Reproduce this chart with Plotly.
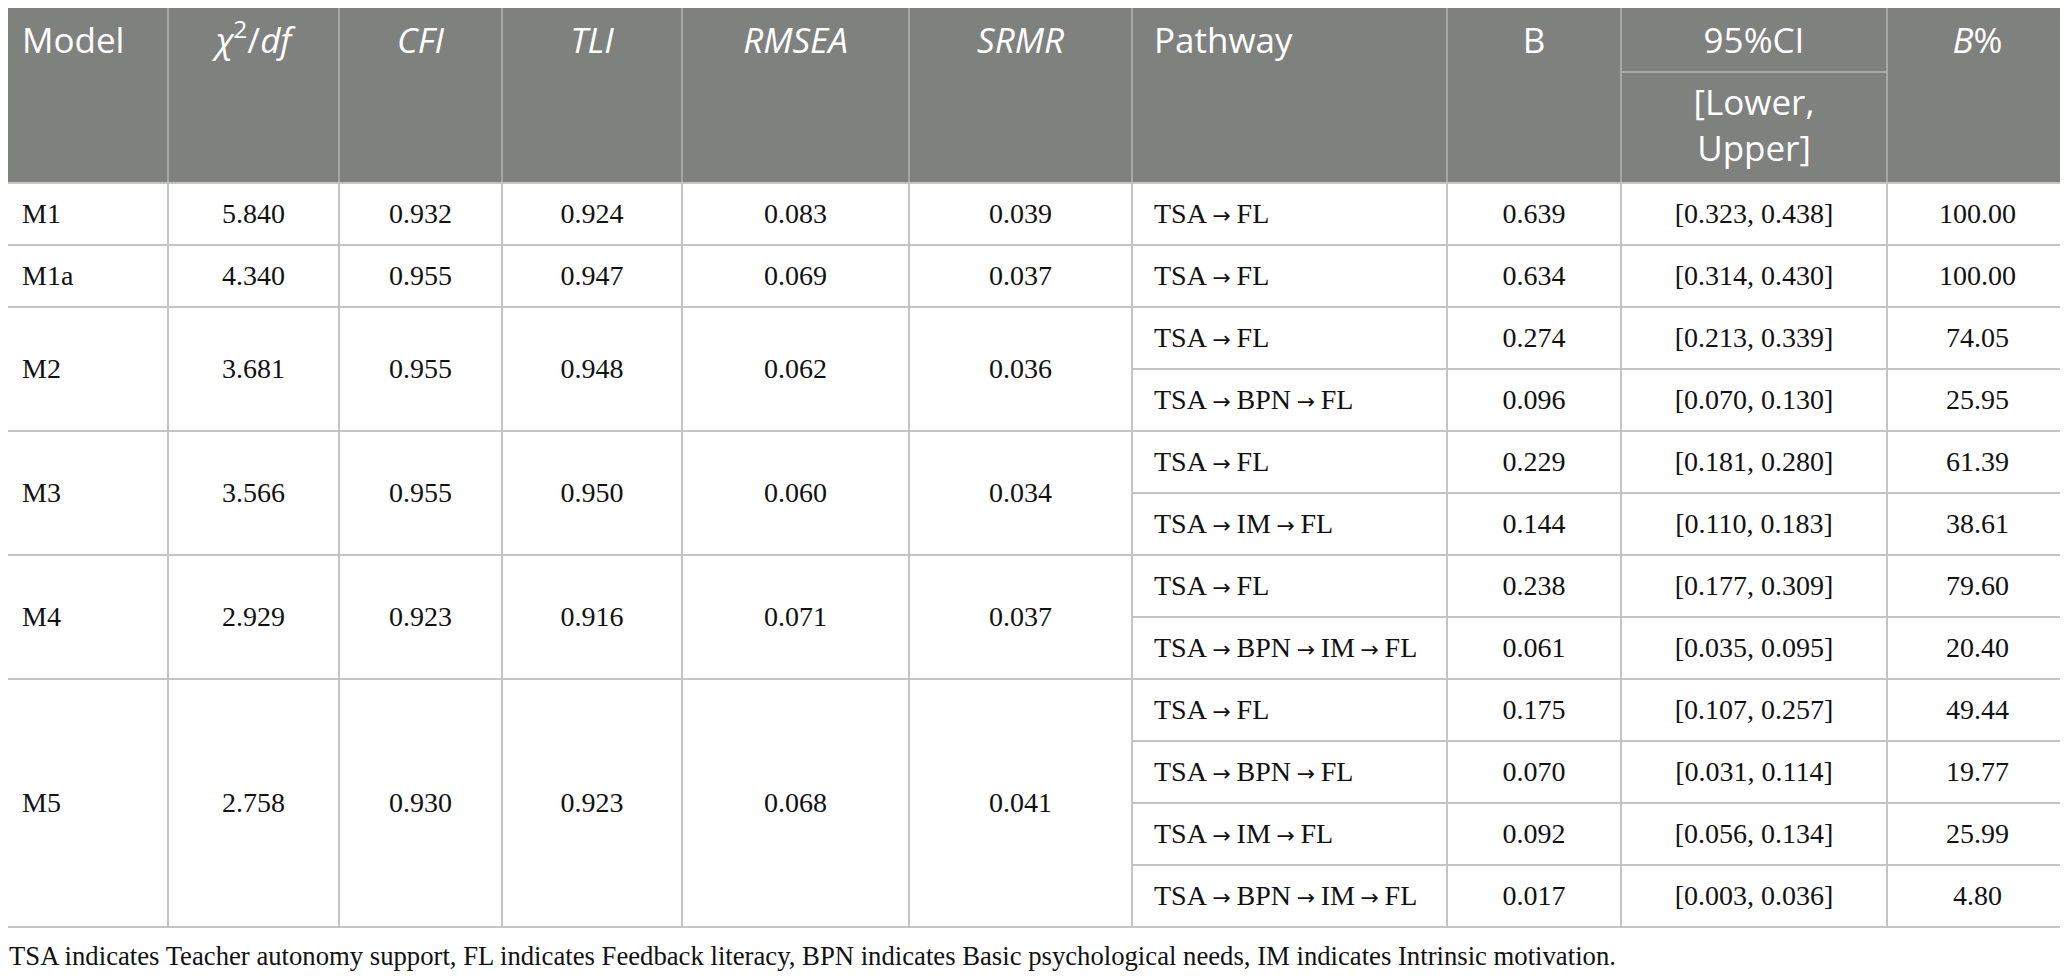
import plotly.graph_objects as go

# ---- table data ----
models = ["M1", "M1a", "M2", "M3", "M4", "M5"]
chi2_df = [5.840, 4.340, 3.681, 3.566, 2.929, 2.758]
cfi = [0.932, 0.955, 0.955, 0.955, 0.923, 0.930]
tli = [0.924, 0.947, 0.948, 0.950, 0.916, 0.923]
rmsea = [0.083, 0.069, 0.062, 0.060, 0.071, 0.068]
srmr = [0.039, 0.037, 0.036, 0.034, 0.037, 0.041]

pathways = [
    ["TSA → FL"],
    ["TSA → FL"],
    ["TSA → FL", "TSA → BPN → FL"],
    ["TSA → FL", "TSA → IM → FL"],
    ["TSA → FL", "TSA → BPN → IM → FL"],
    ["TSA → FL", "TSA → BPN → FL", "TSA → IM → FL", "TSA → BPN → IM → FL"],
]
b_est = [[0.639], [0.634], [0.274, 0.096], [0.229, 0.144], [0.238, 0.061],
         [0.175, 0.070, 0.092, 0.017]]
ci_lower = [[0.323], [0.314], [0.213, 0.070], [0.181, 0.110], [0.177, 0.035],
            [0.107, 0.031, 0.056, 0.003]]
ci_upper = [[0.438], [0.430], [0.339, 0.130], [0.280, 0.183], [0.309, 0.095],
            [0.257, 0.114, 0.134, 0.036]]
b_pct = [[100.00], [100.00], [74.05, 25.95], [61.39, 38.61], [79.60, 20.40],
         [49.44, 19.77, 25.99, 4.80]]

headers = ["Model", "<i>χ</i><sup>2</sup>/<i>df</i>", "<i>CFI</i>", "<i>TLI</i>",
           "<i>RMSEA</i>", "<i>SRMR</i>", "Pathway", "B", "95%CI", "<i>B</i>%"]
ci_subheader = "[Lower,<br>Upper]"
footnote = ("TSA indicates Teacher autonomy support, FL indicates Feedback literacy, "
            "BPN indicates Basic psychological needs, IM indicates Intrinsic motivation.")

# ---- layout / style ----
W, H = 2068, 979
off = 8  # default page margin around the plot div
col_widths = [168, 171, 163, 180, 227, 223, 315, 174, 266, 181]
table_top = 4
header_bottom = 183
ci_split = 72
row_h = 62
pad = 22
header_grey = "#7f817f"
header_line = "#a6a8a6"
grid = "#c4c4c4"
serif = "Liberation Serif"
sans = "Open Sans"
arrow = '\u2009<span style="font-family:DejaVu Sans;font-size:22px">→</span>\u2009'

edges = [0]
for w in col_widths:
    edges.append(edges[-1] + w)
centers = [(a + b) / 2 for a, b in zip(edges[:-1], edges[1:])]
n_rows = sum(len(p) for p in pathways)
table_bottom = header_bottom + n_rows * row_h

shapes = []


def line(x0, y0, x1, y1, color):
    shapes.append(dict(type="line", x0=x0, y0=y0, x1=x1, y1=y1,
                       line=dict(color=color, width=2), layer="above"))


shapes.append(dict(type="rect", x0=0, x1=W, y0=table_top, y1=header_bottom,
                   fillcolor=header_grey, line=dict(width=0), layer="below"))
line(0, table_top, W, table_top, grid)
for x in edges[1:-1]:
    line(x, table_top, x, header_bottom, header_line)
    line(x, header_bottom, x, table_bottom, grid)
line(edges[8], ci_split, edges[9], ci_split, header_line)
line(0, header_bottom, W, header_bottom, grid)

# body cell texts
group_y, group_t = [[] for _ in range(6)], [[] for _ in range(6)]
path_y, path_t, b_t, ci_t, pct_t = [], [], [], [], []
r0 = 0
for i, m in enumerate(models):
    n = len(pathways[i])
    yc = header_bottom + (r0 + n / 2) * row_h + 2
    vals = [m, f"{chi2_df[i]:.3f}", f"{cfi[i]:.3f}", f"{tli[i]:.3f}",
            f"{rmsea[i]:.3f}", f"{srmr[i]:.3f}"]
    for c, v in enumerate(vals):
        group_y[c].append(yc)
        group_t[c].append(v)
    for j in range(n):
        path_y.append(header_bottom + (r0 + j + 0.5) * row_h + 2)
        path_t.append(pathways[i][j].replace(" → ", arrow))
        b_t.append(f"{b_est[i][j]:.3f}")
        ci_t.append(f"[{ci_lower[i][j]:.3f}, {ci_upper[i][j]:.3f}]")
        pct_t.append(f"{b_pct[i][j]:.2f}")
        if j < n - 1:
            yl = header_bottom + (r0 + j + 1) * row_h
            line(edges[6], yl, W, yl, grid)
    r0 += n
    line(0, header_bottom + r0 * row_h, W, header_bottom + r0 * row_h, grid)

fig = go.Figure()

body_font = dict(family=serif, size=28, color="#111111")
head_font = dict(family=sans, size=35, color="white")
head_y = 44

# header
fig.add_trace(go.Scatter(
    x=[edges[0] + pad, edges[6] + pad], y=[head_y, head_y], text=[headers[0], headers[6]],
    mode="text", textposition="middle right", textfont=head_font, hoverinfo="skip"))
mid_cols = [1, 2, 3, 4, 5, 7, 8, 9]
fig.add_trace(go.Scatter(
    x=[centers[c] for c in mid_cols], y=[head_y] * len(mid_cols),
    text=[headers[c] for c in mid_cols],
    mode="text", textposition="middle center", textfont=head_font, hoverinfo="skip"))
fig.add_trace(go.Scatter(
    x=[centers[8]], y=[129], text=[ci_subheader],
    mode="text", textposition="middle center", textfont=head_font, hoverinfo="skip"))

# model-level cells
fig.add_trace(go.Scatter(
    x=[edges[0] + pad] * len(models), y=group_y[0], text=group_t[0],
    mode="text", textposition="middle right", textfont=body_font, hoverinfo="skip"))
for c in range(1, 6):
    fig.add_trace(go.Scatter(
        x=[centers[c]] * len(models), y=group_y[c], text=group_t[c],
        mode="text", textposition="middle center", textfont=body_font, hoverinfo="skip"))

# pathway-level cells
fig.add_trace(go.Scatter(
    x=[edges[6] + pad] * len(path_t), y=path_y, text=path_t,
    mode="text", textposition="middle right", textfont=body_font, hoverinfo="skip"))
for c, txt in zip([7, 8, 9], [b_t, ci_t, pct_t]):
    fig.add_trace(go.Scatter(
        x=[centers[c]] * len(txt), y=path_y, text=txt,
        mode="text", textposition="middle center", textfont=body_font, hoverinfo="skip"))

# footnote
fig.add_trace(go.Scatter(
    x=[off + 1], y=[958], text=[footnote], mode="text", textposition="middle right",
    textfont=dict(family=serif, size=26.7, color="#111111"), hoverinfo="skip"))

fig.update_layout(
    width=W - 2 * off, height=H - 2 * off, margin=dict(l=0, r=0, t=0, b=0),
    paper_bgcolor="white", plot_bgcolor="white", showlegend=False,
    shapes=shapes,
    xaxis=dict(range=[off, W - off], visible=False, fixedrange=True),
    yaxis=dict(range=[H - off, off], visible=False, fixedrange=True),
)

fig.write_html("out.html")
